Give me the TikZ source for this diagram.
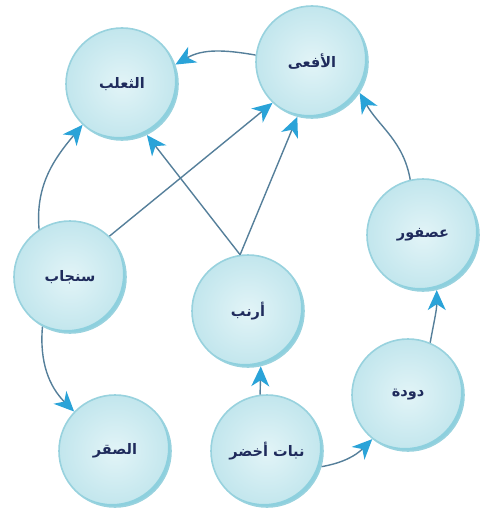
\documentclass[tikz,border=0pt]{standalone}
\usepackage{fontspec}
\usetikzlibrary{arrows.meta}
\TeXXeTstate=1
\newfontfamily\arabicfont[Script=Arabic]{DejaVu Sans}
\definecolor{cinner}{HTML}{E2F4F7}
\definecolor{couter}{HTML}{C2E6ED}
\definecolor{cborder}{HTML}{98D2DE}
\definecolor{ccres}{HTML}{8DD0DE}
\definecolor{ctext}{HTML}{1F2B5C}
\definecolor{cline}{HTML}{557F9A}
\definecolor{chead}{HTML}{2AA3D8}
\tikzset{
  animal/.style={circle, minimum size=112pt, inner sep=0pt,
    shading=radial, inner color=cinner, outer color=couter,
    draw=cborder, line width=1.6pt,
    path picture={\fill[ccres,even odd rule]
      (path picture bounding box.center) circle (57pt)
      ([xshift=-3pt,yshift=3pt]path picture bounding box.center) circle (56pt);},
    font=\arabicfont\bfseries\fontsize{14.5}{17}\selectfont, text=ctext},
  feed/.style={draw=cline, line width=1.4pt,
    -{Stealth[length=20pt,width=18pt,inset=6pt,color=chead]}}
}
\newcommand{\ar}[1]{\beginR #1\endR}
\begin{document}
\begin{tikzpicture}[x=1pt,y=-1pt]
\useasboundingbox (0,0) rectangle (482,511);
\node[animal] (fox) at (122,84) {\ar{الثعلب}};
\node[animal] (snake) at (312,62) {\ar{الأفعى}};
\node[animal] (squirrel) at (70,277) {\ar{سنجاب}};
\node[animal] (rabbit) at (248,311) {\ar{أرنب}};
\node[animal] (sparrow) at (423,235) {\ar{عصفور}};
\node[animal] (hawk) at (115,451) {\ar{الصقر}};
\node[animal] (plant) at (267,451) {\ar{نبات أخضر}};
\node[animal] (worm) at (408,395) {\ar{دودة}};
\draw[feed] (snake.173) to[out=170,in=30] (fox.20);
\draw[feed] (squirrel.123) to[out=95,in=230] (fox.226);
\draw[feed] (squirrel.46) -- (snake.226);
\draw[feed] (rabbit.98) -- (fox.296);
\draw[feed] (rabbit.98) -- (snake.255);
\draw[feed] (sparrow.103) to[out=100,in=-60] (snake.327);
\draw[feed] (squirrel.241) to[out=265,in=135] (hawk.136);
\draw[feed] (plant.97) -- (rabbit.283);
\draw[feed] (plant.344) to[out=10,in=225] (worm.231);
\draw[feed] (worm.67) to[out=80,in=270] (sparrow.284);
\end{tikzpicture}
\end{document}
